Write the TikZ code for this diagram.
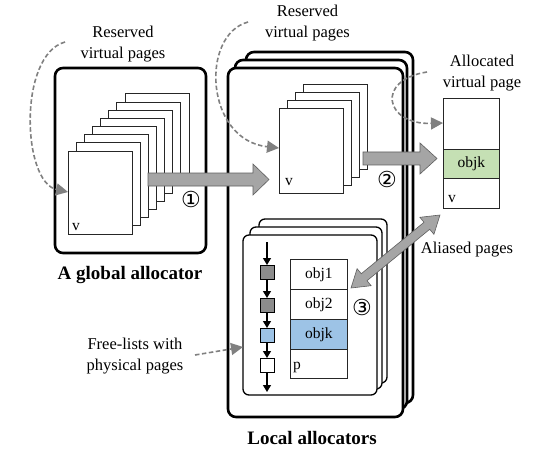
\documentclass[tikz,border=0pt]{standalone}
\usepackage{fontspec}
\setmainfont{Liberation Serif}
\newfontfamily\symfont{DejaVu Sans}
\usetikzlibrary{arrows.meta}
\definecolor{arrgray}{RGB}{165,165,165}
\definecolor{arredge}{RGB}{95,95,95}
\definecolor{dashgray}{RGB}{128,128,128}
\definecolor{objgreen}{RGB}{197,224,180}
\definecolor{objblue}{RGB}{157,195,230}
\definecolor{sqgray}{RGB}{140,140,140}
\tikzset{
  pagebox/.style={draw=black!85, fill=white, line width=0.9pt},
  allocbox/.style={draw=black, fill=white, line width=2.6pt, rounded corners=8pt},
  flbox/.style={draw=black, fill=white, line width=1.3pt, rounded corners=6pt},
  blockarrow/.style={fill=arrgray, draw=arredge, line width=0.6pt},
  dashcurve/.style={draw=dashgray, line width=1.6pt, dash pattern=on 4.5pt off 2.5pt, -{Triangle[length=12pt,width=12pt]}},
  lbl/.style={font=\fontsize{16.5}{21.5}\selectfont, align=center, inner sep=0pt},
  titletxt/.style={font=\fontsize{19}{22}\selectfont\bfseries, inner sep=0pt},
  objtxt/.style={font=\fontsize{15.5}{18}\selectfont, inner sep=0pt},
  circtxt/.style={font=\symfont\fontsize{22}{22}\selectfont, inner sep=0pt},
  rowbox/.style={draw=black!85, line width=0.9pt, minimum width=57pt, minimum height=29.7pt, inner sep=0pt, anchor=north west},
  sqbox/.style={draw=black, line width=1pt, minimum size=14pt, inner sep=0pt},
  flarrow/.style={draw=black, line width=1.3pt, -{Triangle[length=7pt,width=8pt]}}
}
\begin{document}
\begin{tikzpicture}[x=1pt,y=-1pt]
\useasboundingbox (0,0) rectangle (548,457);

% ---------- global allocator ----------
\draw[allocbox] (55,68) rectangle (206,253);
\foreach \i in {7,6,...,1}{
  \draw[pagebox] ({68+8.15*\i},{151-8.15*\i}) rectangle ++(64,83);
}
\node[pagebox, anchor=north west, minimum width=64pt, minimum height=83pt, inner sep=0pt] (gpage) at (68,151) {};
\node[objtxt, anchor=base west] (gv) at (72,230) {v};

% ---------- local allocators ----------
\draw[allocbox] (246,52) rectangle (413,403);
\draw[allocbox] (235,60) rectangle (407,409);
\draw[allocbox] (228,68) rectangle (403,417);
\foreach \i in {3,2,1}{
  \draw[pagebox] ({279+8.3*\i},{108-7.7*\i}) rectangle ++(64,85);
}
\node[pagebox, anchor=north west, minimum width=64pt, minimum height=85pt, inner sep=0pt] (lpage) at (279,108) {};
\node[objtxt, anchor=base west] (lv) at (285,185) {v};

% free-list boxes
\draw[flbox] (259,219) rectangle (387,383);
\draw[flbox] (250,227) rectangle (382,389);
\draw[flbox] (243,235) rectangle (377,395);
\node[rowbox] (r1) at (290,259) {};
\node[rowbox] (r2) at (290,289) {};
\node[rowbox, fill=objblue] (r3) at (290,319) {};
\node[rowbox] (r4) at (290,348.5) {};
\node[objtxt] at (r1.center) {obj1};
\node[objtxt] at (r2.center) {obj2};
\node[objtxt] at (r3.center) {objk};
\node[objtxt, anchor=base west] at (293,369) {p};

% free-list chain
\coordinate (fltop) at (267,242);
\coordinate (flbot) at (267,392);
\node[sqbox, fill=sqgray] (s1) at (267,272.5) {};
\node[sqbox, fill=sqgray] (s2) at (267,305.5) {};
\node[sqbox, fill=objblue] (s3) at (267,335.5) {};
\node[sqbox, fill=white] (s4) at (267,365.5) {};
\draw[flarrow] (fltop) -- (s1.north);
\draw[flarrow] (s1.south) -- (s2.north);
\draw[flarrow] (s2.south) -- (s3.north);
\draw[flarrow] (s3.south) -- (s4.north);
\draw[flarrow] (s4.south) -- (flbot);

% ---------- allocated virtual page ----------
\node[rowbox, minimum width=56pt, minimum height=51pt] (a1) at (443,98) {};
\node[rowbox, minimum width=56pt, minimum height=29pt, fill=objgreen] (a2) at (443,149) {};
\node[rowbox, minimum width=56pt, minimum height=30pt] (a3) at (443,178) {};
\node[objtxt] at (a2.center) {objk};
\node[objtxt, anchor=base west] (av) at (448,202) {v};

% ---------- block arrows ----------
\draw[blockarrow] (148,173) -- (253,173) -- (253,164) -- (269,179.5) -- (253,195) -- (253,186) -- (148,186) -- cycle;
\draw[blockarrow] (363,152) -- (420,152) -- (420,143) -- (437,158.5) -- (420,174) -- (420,165) -- (363,165) -- cycle;
\draw[blockarrow] (351,288) -- (371.1,285.7) -- (367.0,280.7) -- (429.7,229.3) -- (433.9,234.3) -- (440,215)
   -- (419.9,217.3) -- (424.0,222.3) -- (361.3,273.7) -- (357.1,268.7) -- cycle;

% ---------- labels ----------
\node[lbl] (rv1) at (123,44) {Reserved\\virtual pages};
\node[lbl] (rv2) at (307.5,23) {Reserved\\virtual pages};
\node[lbl] (avp) at (482,73) {Allocated\\virtual page};
\node[lbl] (alias) at (467,250) {Aliased pages};
\node[lbl] (fl) at (135,356) {Free-lists with\\physical pages};
\node[titletxt] (gt) at (130,275) {A global allocator};
\node[titletxt] (lt) at (312,438) {Local allocators};
\node[circtxt] (c1) at (191,199) {①};
\node[circtxt] (c2) at (387,179) {②};
\node[circtxt] (c3) at (362,307) {③};

% ---------- dashed pointers ----------
\coordinate (d1s) at (65,42);
\coordinate (d2s) at (248,22);
\coordinate (d3s) at (427,72);
\coordinate (d4s) at (195,355);
\draw[dashcurve] (d1s) .. controls (18,55) and (22,182) .. (gpage.west |- 0,192);
\draw[dashcurve] (d2s) .. controls (200,35) and (205,140) .. (lpage.west |- 0,148);
\draw[dashcurve] (d3s) .. controls (375,80) and (385,125) .. (a1.west |- 0,123);
\draw[dashcurve] (d4s) -- (243,347);
\end{tikzpicture}
\end{document}
